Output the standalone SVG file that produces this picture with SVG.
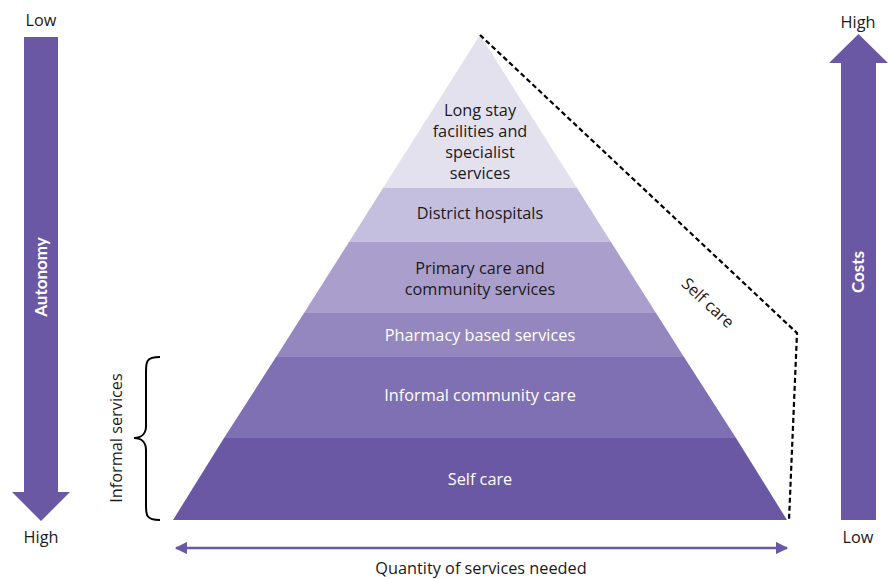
<svg xmlns="http://www.w3.org/2000/svg" width="888" height="579" viewBox="0 0 888 579">
<style>
.t{font-family:"Open Sans","Noto Sans",sans-serif;font-size:16.3px;text-anchor:middle;fill:#1a1a1a}
.w{fill:#ffffff}
.b{font-family:Lato,"Open Sans",sans-serif;font-weight:bold;font-size:17px;text-anchor:middle;fill:#ffffff}
.arr{fill:#6a58a5}
</style>
<defs>
<marker id="ah" viewBox="0 0 10 10" refX="9" refY="5" markerWidth="5" markerHeight="5" orient="auto-start-reverse" markerUnits="strokeWidth">
<path d="M0,0 L10,5 L0,10 z" fill="#6a58a5"/>
</marker>
</defs>
<rect width="888" height="579" fill="#ffffff"/>
<g id="pyramid">
<g id="long-stay">
<polygon points="480,35 577,188 383,188" fill="#e4e1ef"/>
<text class="t" x="480" y="116">Long stay</text>
<text class="t" x="480" y="137">facilities and</text>
<text class="t" x="480" y="158">specialist</text>
<text class="t" x="480" y="179">services</text>
</g>
<g id="district">
<polygon points="383,188 577,188 611,242 349,242" fill="#c5bfdf"/>
<text class="t" x="480" y="219">District hospitals</text>
</g>
<g id="primary">
<polygon points="349,242 611,242 656,313 304,313" fill="#aa9fcc"/>
<text class="t" x="480" y="274">Primary care and</text>
<text class="t" x="480" y="295">community services</text>
</g>
<g id="pharmacy">
<polygon points="304,313 656,313 684,357 276,357" fill="#9487bf"/>
<text class="t w" x="480" y="341">Pharmacy based services</text>
</g>
<g id="informal">
<polygon points="276,357 684,357 736,438 224,438" fill="#7f6fb3"/>
<text class="t w" x="480" y="401">Informal community care</text>
</g>
<g id="self-care">
<polygon points="224,438 736,438 787,520 173,520" fill="#6a58a5"/>
<text class="t w" x="480" y="485">Self care</text>
</g>
</g>
<g id="connectors">
<polyline points="480,35 797,333 789,520" fill="none" stroke="#000" stroke-width="2.2" stroke-dasharray="5,3"/>
<line x1="176" y1="548" x2="787" y2="548" stroke="#6a58a5" stroke-width="2.5" marker-start="url(#ah)" marker-end="url(#ah)"/>
<path d="M160,357 C146,357 146,362 146,372 L146,426 C146,433 142,438 134,438 C142,438 146,443 146,450 L146,505 C146,515 146,520 160,520" fill="none" stroke="#000" stroke-width="2"/>
</g>
<g id="self-care-label">
<text class="t" transform="translate(704,307) rotate(43)" x="0" y="0">Self care</text>
</g>
<g id="informal-label">
<text class="t" transform="translate(122,438) rotate(-90)" x="0" y="0">Informal services</text>
</g>
<g id="quantity-label">
<text class="t" x="481" y="574">Quantity of services needed</text>
</g>
<g id="autonomy">
<polygon class="arr" points="24,37 58,37 58,492 70,492 41,521 12,492 24,492"/>
<text class="b" transform="translate(47,277) rotate(-90)">Autonomy</text>
<text class="t" x="41" y="26">Low</text>
<text class="t" x="41" y="543">High</text>
</g>
<g id="costs">
<polygon class="arr" points="841,520 876,520 876,63 888,63 858.5,34 829,63 841,63"/>
<text class="b" transform="translate(864,272) rotate(-90)">Costs</text>
<text class="t" x="858" y="28">High</text>
<text class="t" x="858" y="543">Low</text>
</g>
</svg>
